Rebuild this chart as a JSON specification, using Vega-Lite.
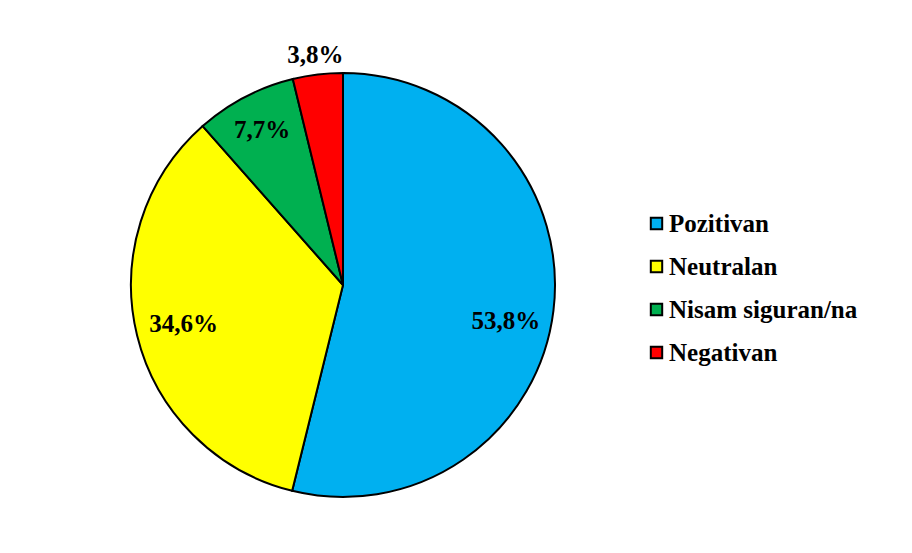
{
  "$schema": "https://vega.github.io/schema/vega-lite/v6.json",
  "autosize": {"type": "none"},
  "padding": {"left": 0, "top": 0, "right": 226, "bottom": 0},
  "width": 686,
  "height": 570,
  "background": "white",
  "config": {"view": {"stroke": null}, "font": "Liberation Serif"},
  "data": {
    "values": [
      {"cat": "Pozitivan", "pct": 53.8, "label": "53,8%", "idx": 1},
      {"cat": "Neutralan", "pct": 34.6, "label": "34,6%", "idx": 2},
      {"cat": "Nisam siguran/na", "pct": 7.7, "label": "7,7%", "idx": 3},
      {"cat": "Negativan", "pct": 3.8, "label": "3,8%", "idx": 4}
    ]
  },
  "encoding": {
    "theta": {"field": "pct", "type": "quantitative", "stack": true},
    "order": {"field": "idx", "type": "quantitative"},
    "color": {
      "field": "cat",
      "type": "nominal",
      "sort": ["Pozitivan", "Neutralan", "Nisam siguran/na", "Negativan"],
      "scale": {
        "domain": ["Pozitivan", "Neutralan", "Nisam siguran/na", "Negativan"],
        "range": ["#00b0f0", "#ffff00", "#00b050", "#ff0000"]
      },
      "legend": {
        "orient": "none",
        "legendX": 644,
        "legendY": 211,
        "title": null,
        "padding": 0,
        "symbolType": "square",
        "symbolSize": 130,
        "symbolStrokeColor": "black",
        "symbolStrokeWidth": 2,
        "symbolOpacity": 1,
        "labelFont": "Liberation Serif",
        "labelFontSize": 25,
        "labelFontWeight": "bold",
        "labelColor": "black",
        "labelOffset": 0,
        "rowPadding": 17,
        "labelLimit": 400
      }
    }
  },
  "layer": [
    {
      "mark": {"type": "arc", "outerRadius": 212, "stroke": "black", "strokeWidth": 2}
    },
    {
      "mark": {"type": "text", "radius": 164, "dy": 16, "font": "Liberation Serif", "fontSize": 25, "fontWeight": "bold"},
      "encoding": {
        "text": {"condition": {"test": "datum.cat === 'Pozitivan'", "field": "label"}, "value": ""},
        "color": {"value": "black"}
      }
    },
    {
      "mark": {"type": "text", "radius": 164, "font": "Liberation Serif", "fontSize": 25, "fontWeight": "bold"},
      "encoding": {
        "text": {"condition": {"test": "datum.cat === 'Neutralan'", "field": "label"}, "value": ""},
        "color": {"value": "black"}
      }
    },
    {
      "mark": {"type": "text", "radius": 175, "font": "Liberation Serif", "fontSize": 25, "fontWeight": "bold"},
      "encoding": {
        "text": {"condition": {"test": "datum.cat === 'Nisam siguran/na'", "field": "label"}, "value": ""},
        "color": {"value": "black"}
      }
    },
    {
      "mark": {"type": "text", "radius": 232, "font": "Liberation Serif", "fontSize": 25, "fontWeight": "bold"},
      "encoding": {
        "text": {"condition": {"test": "datum.cat === 'Negativan'", "field": "label"}, "value": ""},
        "color": {"value": "black"}
      }
    }
  ]
}
